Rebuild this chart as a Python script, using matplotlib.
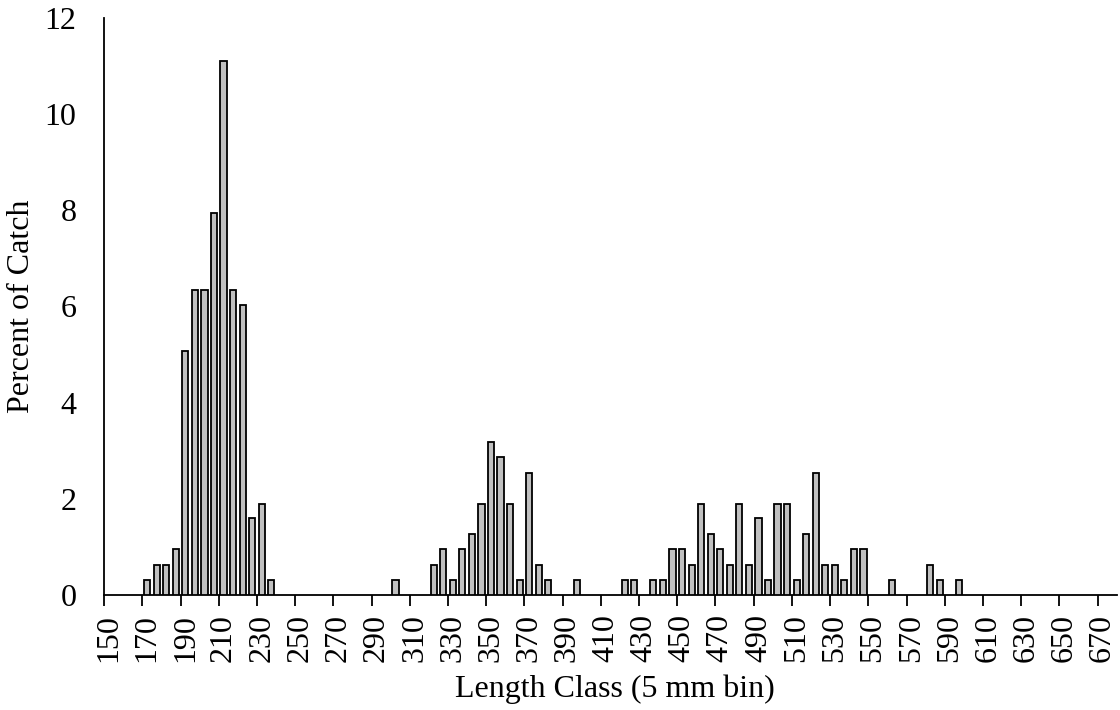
import matplotlib.pyplot as plt
import numpy as np

# length class (mm) -> percent of catch
lengths = [170, 175, 180, 185, 190, 195, 200, 205, 210, 215, 220, 225, 230, 235,
           300, 320, 325, 330, 335, 340, 345, 350, 355, 360, 365, 370, 375, 380, 395,
           420, 425, 435, 440, 445, 450, 455, 460, 465, 470, 475, 480, 485, 490,
           495, 500, 505, 510, 515, 520, 525, 530, 535, 540, 545, 560, 580, 585, 595]
percent = [0.32, 0.63, 0.63, 0.95, 5.08, 6.35, 6.35, 7.94, 11.11, 6.35, 6.03, 1.59, 1.90, 0.32,
           0.32, 0.63, 0.95, 0.32, 0.95, 1.27, 1.90, 3.17, 2.86, 1.90, 0.32, 2.54, 0.63, 0.32, 0.32,
           0.32, 0.32, 0.32, 0.32, 0.95, 0.95, 0.63, 1.90, 1.27, 0.95, 0.63, 1.90, 0.63, 1.59,
           0.32, 1.90, 1.90, 0.32, 1.27, 2.54, 0.63, 0.63, 0.32, 0.95, 0.95, 0.32, 0.63, 0.32, 0.32]

bin_start = 150
bin_end = 675
bin_w = 5
label_step = 20

plt.rcParams['font.family'] = ['Liberation Serif', 'DejaVu Serif']
fs = 23

fig = plt.figure(figsize=(11.2, 7.1), dpi=100)
ax = fig.add_axes([0.093, 0.162, 0.904, 0.813])

ax.bar(lengths, percent, width=bin_w * 0.64, color='#c0c0c0',
       edgecolor='black', linewidth=1.3, zorder=3)

ax.set_xlim(bin_start - bin_w / 2, bin_end + bin_w / 2)
ax.set_ylim(0, 12)
ax.set_yticks(np.arange(0, 13, 2))
ax.tick_params(axis='y', length=0, labelsize=fs, pad=20)

# tick marks between categories, labels on category centres
ax.set_xticks(np.arange(bin_start, bin_end + 1, label_step) - bin_w / 2)
ax.set_xticklabels([])
ax.tick_params(axis='x', which='major', length=8, width=1.3, direction='out')
ax.set_xticks(np.arange(bin_start, bin_end + 1, label_step), minor=True)
ax.set_xticklabels([str(v) for v in range(bin_start, bin_end + 1, label_step)],
                   minor=True, rotation=90)
ax.tick_params(axis='x', which='minor', length=0, labelsize=fs, pad=14)

for s in ['top', 'right']:
    ax.spines[s].set_visible(False)
for s in ['left', 'bottom']:
    ax.spines[s].set_linewidth(1.3)

ax.set_xlabel('Length Class (5 mm bin)', fontsize=fs)
ax.xaxis.set_label_coords(0.504, -0.138)
ax.set_ylabel('Percent of Catch', fontsize=fs, va='center', ha='center')
ax.yaxis.set_label_coords(-0.082, 0.5)

plt.savefig('out.png', dpi=100)
